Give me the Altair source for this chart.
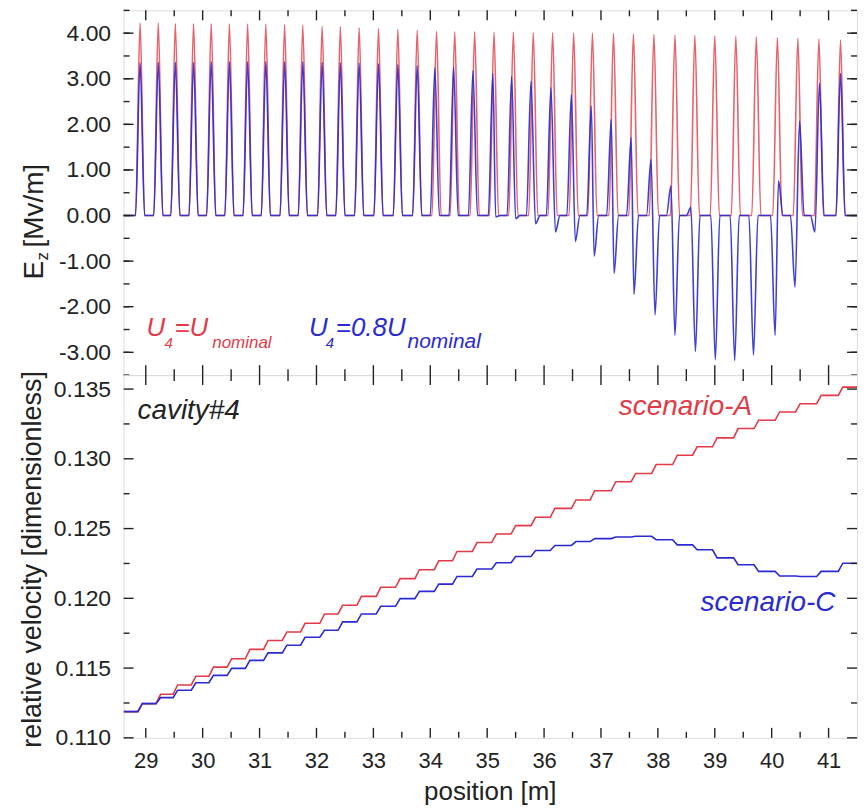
import altair as alt
import pandas as pd

# ---------------- data ----------------
# positions of the 37 accelerating-gap field maxima [m]
cell_x = [28.90, 29.22, 29.52, 29.84, 30.15, 30.47, 30.79, 31.11, 31.44, 31.76,
          32.10, 32.42, 32.75, 33.09, 33.43, 33.77, 34.11, 34.43, 34.78, 35.12,
          35.46, 35.81, 36.15, 36.52, 36.85, 37.22, 37.57, 37.93, 38.30, 38.65,
          39.00, 39.37, 39.73, 40.10, 40.46, 40.83, 41.21]
# U4 = U_nominal : peak field [MV/m]
red_peak = [4.22, 4.22, 4.21, 4.21, 4.21, 4.20, 4.20, 4.20, 4.19, 4.17,
            4.15, 4.14, 4.12, 4.10, 4.08, 4.06, 4.04, 4.03, 4.03, 4.02,
            4.02, 4.01, 4.01, 4.00, 4.00, 3.99, 3.98, 3.97, 3.96, 3.95,
            3.94, 3.93, 3.92, 3.90, 3.89, 3.87, 3.85]
# U4 = 0.8 U_nominal : positive maximum (position, value) per gap
blue_pos_x = [28.90, 29.22, 29.52, 29.84, 30.15, 30.47, 30.79, 31.11, 31.44, 31.76,
              32.10, 32.42, 32.75, 33.09, 33.43, 33.77, 34.08, 34.41, 34.75, 35.10,
              35.43, 35.77, 36.12, 36.48, 36.83, 37.18, 37.53, 37.88, 38.23, 38.58,
              None, None, None, 40.12, 40.49, 40.84, 41.21]
blue_pos = [3.35, 3.36, 3.36, 3.36, 3.37, 3.37, 3.37, 3.37, 3.37, 3.37,
            3.36, 3.35, 3.34, 3.33, 3.31, 3.28, 3.24, 3.25, 3.17, 3.12,
            3.05, 2.94, 2.80, 2.65, 2.40, 2.11, 1.71, 1.23, 0.65, 0.18,
            None, None, None, 0.76, 2.07, 2.90, 3.12]
# U4 = 0.8 U_nominal : negative minimum (position, value) per gap
blue_neg_x = [None] * 19 + [35.15, 35.50, 35.85, 36.20, 36.55, 36.88, 37.23, 37.58,
                            37.95, 38.30, 38.66, 39.01, 39.35, 39.68, 40.06, 40.41,
                            40.76, None]
blue_neg = [None] * 19 + [-0.03, -0.07, -0.18, -0.36, -0.57, -0.89, -1.27, -1.73,
                          -2.18, -2.63, -2.98, -3.16, -3.18, -3.06, -2.63, -1.57,
                          -0.36, None]

# relative velocity: level at entry and after each gap
vel_start = 0.11188
vel_A = [0.11245, 0.11312, 0.11379, 0.11441, 0.11507, 0.11567, 0.11634, 0.11698,
         0.11759, 0.11821, 0.11888, 0.11950, 0.12014, 0.12079, 0.12141, 0.12205,
         0.12269, 0.12336, 0.12400, 0.12461, 0.12521, 0.12581, 0.12645, 0.12705,
         0.12771, 0.12836, 0.12895, 0.12959, 0.13026, 0.13086, 0.13150, 0.13217,
         0.13276, 0.13336, 0.13395, 0.13455, 0.13514]
vel_C = [0.11245, 0.11288, 0.11341, 0.11395, 0.11448, 0.11498, 0.11555, 0.11609,
         0.11664, 0.11721, 0.11771, 0.11831, 0.11888, 0.11943, 0.11998, 0.12050,
         0.12102, 0.12157, 0.12210, 0.12255, 0.12300, 0.12343, 0.12379, 0.12407,
         0.12428, 0.12440, 0.12445, 0.12420, 0.12383, 0.12348, 0.12290, 0.12241,
         0.12193, 0.12160, 0.12157, 0.12193, 0.12252]

x_domain = [28.61, 41.5]
x_major = list(range(29, 42))
x_minor = [29.5 + i for i in range(12)]
ez_major = [-3, -2, -1, 0, 1, 2, 3, 4]
ez_minor = [-3.5 + 0.5 * i for i in range(17)]
v_major = [0.110, 0.115, 0.120, 0.125, 0.130, 0.135]
v_minor = [0.1125, 0.1175, 0.1225, 0.1275, 0.1325]

# ---------------- styling ----------------
RED = "#e23a46"
BLUE = "#2a2ad2"
INK = "#222222"
FONT = "Liberation Sans"
W, H1, H2 = 736, 366, 364
HW = 0.08      # half base width of a gap field bump
STEP = 0.04    # half width of a velocity step

# ---------------- build tables ----------------
red_rows = [(x_domain[0], 0.0)]
for c, h in zip(cell_x, red_peak):
    red_rows += [(c - HW, 0.0), (c, h), (c + HW, 0.0)]
red_rows.append((x_domain[1], 0.0))
df_red = pd.DataFrame(red_rows, columns=["x", "v"])
df_red["i"] = range(len(df_red))

blue_rows = [(x_domain[0], 0.0)]
for px_, pv, nx, nv in zip(blue_pos_x, blue_pos, blue_neg_x, blue_neg):
    ext = []
    if px_ is not None:
        ext.append((px_, pv))
    if nx is not None:
        ext.append((nx, nv))
    ext.sort()
    blue_rows += [(ext[0][0] - HW, 0.0)] + ext + [(ext[-1][0] + HW, 0.0)]
blue_rows.append((x_domain[1], 0.0))
df_blue = pd.DataFrame(blue_rows, columns=["x", "v"])
df_blue["i"] = range(len(df_blue))


def steps(levels):
    rows = [(x_domain[0], vel_start)]
    prev = vel_start
    for c, lv in zip(cell_x, levels):
        rows += [(c - STEP, prev), (c + STEP, lv)]
        prev = lv
    rows.append((x_domain[1], prev))
    d = pd.DataFrame(rows, columns=["x", "v"])
    d["i"] = range(len(d))
    return d


df_A = steps(vel_A)
df_C = steps(vel_C)

xscale = alt.Scale(domain=x_domain, nice=False, zero=False)
y1scale = alt.Scale(domain=[-3.5, 4.5], nice=False, zero=False)
y2scale = alt.Scale(domain=[0.110, 0.136], nice=False, zero=False)

one = pd.DataFrame({"k": [0]})


def txt(s, x, y, size, color=INK, italic=False, angle=0, align="left"):
    kw = dict(text=s, fontSize=size, color=color, font=FONT, align=align,
              baseline="alphabetic")
    if italic:
        kw["fontStyle"] = "italic"
    if angle:
        kw["angle"] = angle
    return alt.Chart(one).mark_text(**kw).encode(x=alt.value(x), y=alt.value(y))


def tick_layers(yscale, H, xaxis, yaxis, ys_major, ys_minor):
    out = []
    for vals, ln in ((x_major, 10), (x_minor, 6)):
        d = pd.DataFrame({"x": vals})
        b = alt.Chart(d).mark_rule(color=INK, strokeWidth=1.4)
        out.append(b.encode(x=alt.X("x:Q", scale=xscale, axis=xaxis),
                            y=alt.value(H), y2=alt.value(H - ln)))
        out.append(b.encode(x=alt.X("x:Q", scale=xscale, axis=xaxis),
                            y=alt.value(0), y2=alt.value(ln)))
    for vals, ln in ((ys_major, 10), (ys_minor, 6)):
        d = pd.DataFrame({"v": vals})
        b = alt.Chart(d).mark_rule(color=INK, strokeWidth=1.4)
        out.append(b.encode(y=alt.Y("v:Q", scale=yscale, axis=yaxis),
                            x=alt.value(0), x2=alt.value(ln)))
        out.append(b.encode(y=alt.Y("v:Q", scale=yscale, axis=yaxis),
                            x=alt.value(W), x2=alt.value(W - ln)))
    return out


# ---------------- top panel ----------------
x_top_axis = alt.Axis(labels=False, ticks=False, domain=False, grid=False, title=None)
y_top_axis = alt.Axis(values=ez_major, ticks=False, domain=False, grid=False, title=None,
                      labelExpr="datum.value < 0 ? '-' + format(-datum.value, '.2f') : format(datum.value, '.2f')",
                      labelFontSize=23, labelColor=INK, labelFont=FONT, labelPadding=13)

red_line = alt.Chart(df_red).mark_line(
    interpolate="monotone", color=RED, strokeWidth=1.6, opacity=0.8, clip=True
).encode(
    x=alt.X("x:Q", scale=xscale, axis=x_top_axis),
    y=alt.Y("v:Q", scale=y1scale, axis=y_top_axis),
    order="i:Q",
)
blue_line = alt.Chart(df_blue).mark_line(
    interpolate="monotone", color=BLUE, strokeWidth=1.6, opacity=0.9, clip=True
).encode(
    x=alt.X("x:Q", scale=xscale, axis=x_top_axis),
    y=alt.Y("v:Q", scale=y1scale, axis=y_top_axis),
    order="i:Q",
)

top_texts = [
    # y title  E_z [Mv/m]
    txt("E", -81, 270, 28, angle=270),
    txt("z", -76, 251, 17, angle=270),
    txt("[Mv/m]", -81, 238, 28, angle=270),
    # legend U4=U_nominal
    txt("U", 23, 327, 26, RED, True),
    txt("4", 41, 339, 15, RED, True),
    txt("=U", 51, 327, 26, RED, True),
    txt("nominal", 89, 339, 17, RED, True),
    # legend U4=0.8U_nominal
    txt("U", 186, 327, 26, BLUE, True),
    txt("4", 203, 339, 15, BLUE, True),
    txt("=0.8U", 213, 327, 26, BLUE, True),
    txt("nominal", 285, 339, 21, BLUE, True),
]

top = alt.layer(
    red_line, blue_line,
    *tick_layers(y1scale, H1, x_top_axis, y_top_axis, ez_major, ez_minor),
    *top_texts,
).properties(width=W, height=H1)

# ---------------- bottom panel ----------------
x_bot_axis = alt.Axis(values=x_major, format="d", ticks=False, domain=False, grid=False,
                      title=None, labelFontSize=22, labelColor=INK, labelFont=FONT,
                      labelPadding=13)
y_bot_axis = alt.Axis(values=v_major, format=".3f", ticks=False, domain=False, grid=False,
                      title=None, labelFontSize=23, labelColor=INK, labelFont=FONT,
                      labelPadding=13)

line_A = alt.Chart(df_A).mark_line(color=RED, strokeWidth=1.6, clip=True).encode(
    x=alt.X("x:Q", scale=xscale, axis=x_bot_axis),
    y=alt.Y("v:Q", scale=y2scale, axis=y_bot_axis),
    order="i:Q",
)
line_C = alt.Chart(df_C).mark_line(color=BLUE, strokeWidth=1.6, clip=True).encode(
    x=alt.X("x:Q", scale=xscale, axis=x_bot_axis),
    y=alt.Y("v:Q", scale=y2scale, axis=y_bot_axis),
    order="i:Q",
)

bot_texts = [
    txt("relative velocity [dimensionless]", -83, 185, 27, angle=270, align="center"),
    txt("position [m]", W / 2, 426, 26, align="center"),
    txt("cavity#4", 14, 44, 28, INK, True),
    txt("scenario-A", 497, 40, 28, RED, True),
    txt("scenario-C", 579, 237, 28, BLUE, True),
]

bottom = alt.layer(
    line_A, line_C,
    *tick_layers(y2scale, H2, x_bot_axis, y_bot_axis, v_major, v_minor),
    *bot_texts,
).properties(width=W, height=H2)

chart = alt.vconcat(top, bottom, spacing=0, bounds="flush").properties(
    padding={"left": 18, "top": 7, "right": 8, "bottom": 4}
).configure_view(stroke=INK, strokeWidth=1.5).configure(font=FONT, background="white")

chart.save("out.html", embed_options={"renderer": "svg", "actions": False})
